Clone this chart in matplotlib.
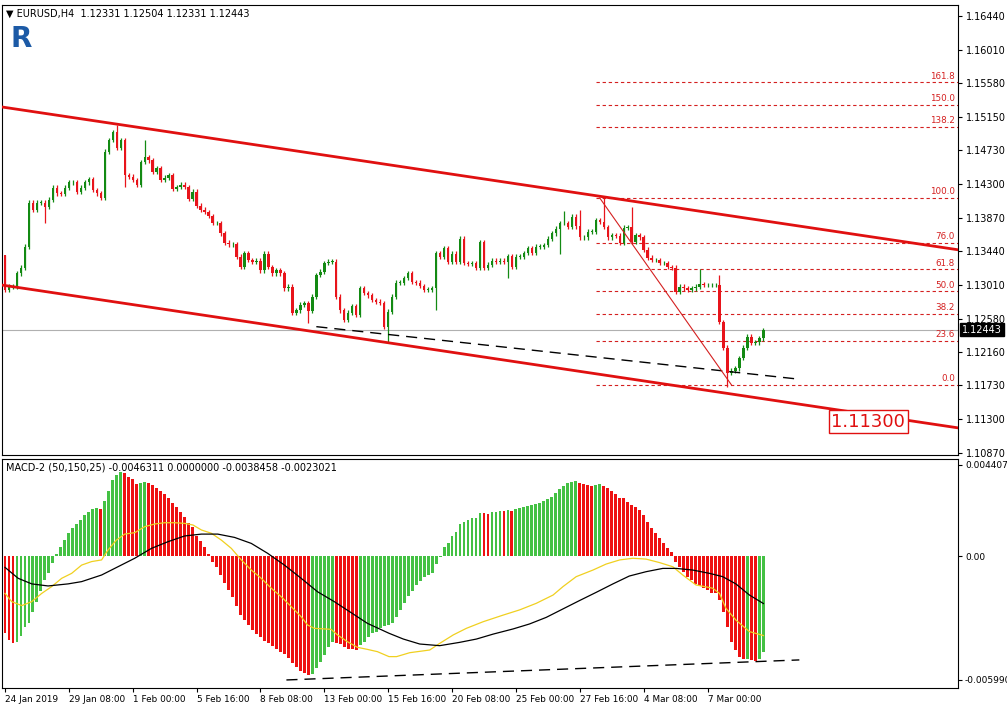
import matplotlib
matplotlib.use("Agg")
import matplotlib.pyplot as plt
import numpy as np

# ---------------- data ----------------
closes = [
 1.1295,1.1299,1.1299,1.1316,1.1323,1.1350,1.1406,1.1397,1.1406,1.1406,
 1.1401,1.1410,1.1425,1.1418,1.1417,1.1425,1.1432,1.1432,1.1420,1.1425,
 1.1432,1.1436,1.1422,1.1418,1.1412,1.1471,1.1486,1.1496,1.1476,1.1486,
 1.1441,1.1439,1.1435,1.1429,1.1458,1.1464,1.1460,1.1445,1.1450,1.1435,
 1.1438,1.1441,1.1424,1.1426,1.1429,1.1426,1.1411,1.1420,1.1402,1.1397,
 1.1394,1.1389,1.1380,1.1380,1.1367,1.1355,1.1353,1.1353,1.1337,1.1324,
 1.1342,1.1333,1.1331,1.1332,1.1320,1.1341,1.1324,1.1316,1.1320,1.1316,
 1.1297,1.1299,1.1266,1.1269,1.1276,1.1278,1.1268,1.1286,1.1314,1.1318,
 1.1329,1.1331,
 1.1331,1.1286,1.1269,1.1257,1.1266,1.1274,1.1263,1.1297,1.1291,1.1288,
 1.1282,1.1280,1.1278,1.1248,1.1267,1.1286,1.1304,1.1304,1.1310,1.1316,
 1.1305,1.1304,1.1300,1.1295,1.1295,1.1297,1.1342,1.1337,1.1348,1.1331,
 1.1341,1.1331,1.1360,1.1329,1.1328,1.1329,1.1323,1.1356,1.1323,1.1327,
 1.1332,1.1331,1.1332,1.1331,1.1338,1.1324,1.1337,1.1337,1.1342,1.1348,
 1.1342,1.1350,1.1350,1.1352,1.1360,1.1367,1.1373,1.1380,1.1380,1.1375,
 1.1388,1.1376,1.1362,1.1362,1.1369,1.1369,1.1384,1.1382,1.1375,1.1362,
 1.1365,1.1364,1.1355,1.1374,1.1375,1.1356,1.1365,1.1362,
 1.1346,1.1336,1.1333,1.1333,1.1329,1.1329,1.1324,1.1323,1.1292,1.1299,
 1.1297,1.1295,1.1297,1.1299,1.1302,1.1301,1.1301,1.1301,1.1301,1.1254,
 1.1221,1.1189,1.1192,1.1195,1.1208,1.1221,1.1235,1.1227,1.1228,1.1233,
 1.12443]
first_open = 1.1339
high_marks = {0: 1.1339, 28: 1.1505, 35: 1.1486, 140: 1.1395, 144: 1.1397,
              150: 1.1415, 157: 1.1401, 174: 1.1321, 179: 1.1314, 190: 1.1246}
low_marks = {10: 1.1380, 30: 1.1426, 76: 1.1253, 96: 1.1229, 108: 1.1269,
             126: 1.1310, 139: 1.1340, 181: 1.1171}

hist = [  # MACD histogram, x1e-3
 -3.710,-4.065,-4.194,-4.145,-3.871,-3.420,-3.258,-2.694,-2.210,-1.678,
 -1.161,-0.807,-0.355,0.081,0.419,0.774,1.129,1.339,1.548,1.742,
 1.984,2.145,2.258,2.307,2.258,2.678,3.145,3.678,3.920,4.081,
 4.000,3.839,3.710,3.484,3.549,3.581,3.549,3.436,3.307,3.161,
 3.000,2.790,2.581,2.355,2.145,1.903,1.613,1.419,0.968,0.742,
 0.419,0.097,-0.274,-0.548,-0.919,-1.323,-1.645,-1.968,-2.420,-2.855,
 -3.097,-3.339,-3.581,-3.774,-3.936,-4.097,-4.194,-4.355,-4.516,-4.629,
 -4.758,-4.952,-5.162,-5.387,-5.549,-5.678,-5.758,-5.710,-5.436,-5.113,
 -4.791,-4.420,-4.162,-4.226,-4.274,-4.387,-4.484,-4.516,-4.549,-4.307,
 -4.145,-3.903,-3.742,-3.662,-3.500,-3.387,
 -3.339,-3.258,-2.936,-2.613,-2.258,-1.936,-1.678,-1.403,-1.194,-1.032,
 -0.919,-0.839,-0.387,-0.032,0.419,0.645,0.968,1.177,1.548,1.661,
 1.742,1.823,1.855,2.097,2.065,2.048,2.113,2.145,2.194,2.161,
 2.226,2.178,2.258,2.307,2.355,2.420,2.452,2.500,2.581,2.661,
 2.742,2.871,3.032,3.226,3.387,3.516,3.597,3.629,3.516,3.484,
 3.436,3.387,3.436,3.468,3.387,3.274,3.161,3.000,2.823,2.790,
 2.629,2.468,2.387,2.226,1.984,1.661,1.339,1.097,0.855,0.613,
 0.371,0.210,-0.274,-0.516,-0.758,-1.000,-1.161,-1.355,-1.452,-1.565,
 -1.645,-1.774,-1.807,-2.129,-2.694,-3.420,-4.145,-4.549,-4.871,-5.000,
 -4.968,-5.032,-5.065,-5.000,-4.631]

signal_x = [0,1.7,4.2,6.7,9.2,11.7,14.2,16.7,19.2,21.7,24.2,25.8,27.9,30,32.5,35,37.5,40,42.5,45,
            47.1,49.2,51.7,54.2,56.7,59.2,61.7,64.2,66.7,69.2,71.7,74.2,75.8,77.5,81.7,83.3,85.8,88.3,
            90.8,93.3,96.2,98.1,101.4,106.4,108.9,112.3,115.6,119.8,124.8,128.9,133.1,137.3,139.8,
            143.1,147.3,150.6,154,157.3,160.6,164,167.3,169.8,173.1,177.3,179,180.6,183.1,186.5,190]
signal_y = [-1.81,-2.21,-2.40,-2.21,-1.81,-1.48,-1.08,-0.84,-0.44,-0.27,-0.19,0.29,0.77,1.06,1.13,1.42,1.55,1.61,1.61,1.58,
            1.50,1.26,1.10,0.77,0.37,-0.19,-0.68,-1.08,-1.56,-1.97,-2.45,-2.94,-3.34,-3.50,-3.55,-3.82,-4.15,-4.42,
            -4.52,-4.63,-4.87,-4.87,-4.68,-4.55,-4.23,-3.82,-3.50,-3.18,-2.86,-2.61,-2.29,-1.89,-1.48,
            -1.00,-0.68,-0.39,-0.19,-0.11,-0.15,-0.32,-0.52,-0.92,-1.40,-1.56,-1.81,-2.53,-3.10,-3.66,-3.85]
slow_x = [0,3.3,6.7,10.8,15.8,19.2,24.2,28.3,32.5,36.7,40.8,45,49.2,53.3,57.5,61.7,65.8,70,74.2,78.3,
          82.5,86.7,90.8,96.2,99.8,103.9,108.9,113.9,118.1,122.3,127.3,131.4,135.6,139.8,143.9,148.1,
          152.3,156.4,160.6,164.8,168.1,172.3,176.5,179.8,183.1,186.5,190]
slow_y = [-0.55,-1.08,-1.35,-1.45,-1.35,-1.24,-0.92,-0.52,-0.11,0.37,0.69,0.97,1.06,1.06,0.90,0.61,0.13,-0.44,-1.08,-1.73,
          -2.21,-2.74,-3.26,-3.74,-4.02,-4.26,-4.34,-4.18,-4.02,-3.78,-3.53,-3.29,-2.97,-2.56,-2.16,-1.76,
          -1.35,-0.97,-0.76,-0.60,-0.60,-0.68,-0.84,-1.00,-1.35,-1.89,-2.30]

date_labels = ["24 Jan 2019","29 Jan 08:00","1 Feb 00:00","5 Feb 16:00","8 Feb 08:00","13 Feb 00:00",
               "15 Feb 16:00","20 Feb 08:00","25 Feb 00:00","27 Feb 16:00","4 Mar 08:00","7 Mar 00:00"]
price_ticks = [1.16440,1.16010,1.15580,1.15150,1.14730,1.14300,1.13870,1.13440,1.13010,1.12580,1.12160,1.11730,1.11300,1.10870]
fib_levels = [0.0,23.6,38.2,50.0,61.8,76.0,100.0,138.2,150.0,161.8]
fib_high, fib_low = 1.1412, 1.11737
fib_high_idx, fib_low_idx = 149, 182
upper_channel = [(-0.75, 1.1528), (238.75, 1.1346)]
lower_channel = [(-0.75, 1.1301), (238.75, 1.1119)]
support_dash = [(78, 1.1248), (199, 1.1181)]
macd_dash = [(70.5, -6.00), (199, -5.03)]

# ---------------- figure ----------------
FS = 7
fig = plt.figure(figsize=(10.07, 7.07), dpi=100)
ax = fig.add_axes([2/1007, 1-455/707, 956/1007, 450/707])
ax2 = fig.add_axes([2/1007, 1-688/707, 956/1007, 229/707])

n = len(closes)
opens = [first_open] + closes[:-1]
RED, GRN = "#e8141b", "#138a13"
for i in range(n):
    o, c = opens[i], closes[i]
    hi = high_marks.get(i, max(o, c) + 0.0003)
    lo = low_marks.get(i, min(o, c) - 0.0003)
    col = GRN if c >= o else RED
    ax.vlines(i, lo, hi, color=col, lw=0.9, zorder=3)
    ax.bar(i, max(abs(c - o), 0.00005), bottom=min(o, c), width=0.6, color=col, zorder=4, linewidth=0)

xmin, xmax = -0.75, 238.75
ax.set_xlim(xmin, xmax)
ax.set_ylim(1.10844, 1.16580)

for ch in (upper_channel, lower_channel):
    ax.plot([ch[0][0], ch[1][0]], [ch[0][1], ch[1][1]], color="#e01010", lw=2, zorder=5)
ax.plot([support_dash[0][0], support_dash[1][0]], [support_dash[0][1], support_dash[1][1]],
        color="black", lw=1, ls=(0, (8, 5)), zorder=5)
rng = fib_high - fib_low
for lv in fib_levels:
    p = fib_low + lv / 100 * rng
    ax.plot([148, xmax], [p, p], color="#d42020", lw=0.8, ls=(0, (3, 2.5)), zorder=2)
    ax.text(xmax - 0.8, p + 0.0002, f"{lv:.1f}", color="#d42020", fontsize=6.3, ha="right", va="bottom", zorder=6)
ax.plot([fib_high_idx, fib_low_idx], [fib_high, fib_low], color="#d42020", lw=0.8, zorder=5)
ax.axhline(closes[-1], color="#b0b0b0", lw=0.8, zorder=1)
ax.text(207, 1.1127, "1.11300", color="#e01010", fontsize=13, ha="left", va="center", zorder=7,
        bbox=dict(boxstyle="square,pad=0.15", fc="white", ec="#e01010", lw=1))

ax.yaxis.tick_right()
ax.set_yticks(price_ticks)
ax.set_yticklabels([f"{t:.5f}" for t in price_ticks], fontsize=FS)
ax.tick_params(axis="y", length=3, pad=3)
ax.set_xticks([])
ax.text(1.004, (closes[-1] - 1.10844) / (1.16580 - 1.10844), f"{closes[-1]:.5f}", transform=ax.transAxes,
        fontsize=FS, color="white", va="center", ha="left", zorder=8,
        bbox=dict(boxstyle="square,pad=0.2", fc="black", ec="black"))
ax.text(0.004, 0.992, "▼ EURUSD,H4  1.12331 1.12504 1.12331 1.12443", transform=ax.transAxes,
        fontsize=FS, va="top", ha="left")
ax.text(0.009, 0.925, "R", transform=ax.transAxes, fontsize=20, fontweight="bold", color="#1c5aa6",
        va="center", ha="left", family="DejaVu Sans")

# ---------------- MACD ----------------
hv = np.array(hist) * 1e-3
hcol = ["#ee1111"] + ["#44c144" if hv[i] > hv[i - 1] else "#ee1111" for i in range(1, len(hv))]
ax2.bar(np.arange(len(hv)), hv, width=0.72, color=hcol, linewidth=0, zorder=2)
ax2.plot(signal_x, np.array(signal_y) * 1e-3, color="#f0d020", lw=0.9, zorder=3)
ax2.plot(slow_x, np.array(slow_y) * 1e-3, color="black", lw=0.9, zorder=4)
ax2.plot([macd_dash[0][0], macd_dash[1][0]], [macd_dash[0][1] * 1e-3, macd_dash[1][1] * 1e-3],
         color="black", lw=1, ls=(0, (8, 5)), zorder=5)
ax2.set_xlim(xmin, xmax)
ax2.set_ylim(-0.006389, 0.004695)
ax2.yaxis.tick_right()
ax2.set_yticks([0.0044079, 0.0, -0.005990])
ax2.set_yticklabels(["0.0044079", "0.00", "-0.005990"], fontsize=6.5)
ax2.tick_params(axis="y", length=3, pad=2)
ax2.text(0.004, 0.985, "MACD-2 (50,150,25) -0.0046311 0.0000000 -0.0038458 -0.0023021",
         transform=ax2.transAxes, fontsize=FS, va="top", ha="left")
ax2.set_xticks([16 * k for k in range(len(date_labels))])
ax2.set_xticklabels(date_labels, fontsize=6.4, ha="left")
ax2.tick_params(axis="x", length=3, pad=2)

fig.savefig("out.png", dpi=100, facecolor="white")
